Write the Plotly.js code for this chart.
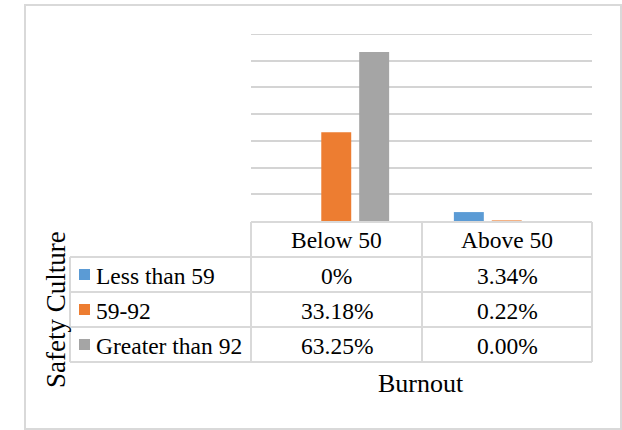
<!DOCTYPE html>
<html>
<head>
<meta charset="utf-8">
<script src="https://cdn.plot.ly/plotly-3.0.1.min.js"></script>
<style>html,body{margin:0;padding:0;background:#fff;}#chart{width:622px;height:430px;}</style>
</head>
<body>
<div id="chart"></div>
<script>
// ---- data ----
var categories = ['Below 50', 'Above 50'];
var seriesNames = ['Less than 59', '59-92', 'Greater than 92'];
var lessThan59 = [0, 3.34];
var from59to92 = [33.18, 0.22];
var greaterThan92 = [63.25, 0.00];
var lessThan59Labels = ['0%', '3.34%'];
var from59to92Labels = ['33.18%', '0.22%'];
var greaterThan92Labels = ['63.25%', '0.00%'];
var xTitle = 'Burnout';
var yTitle = 'Safety Culture';
var yMax = 70;

var seriesValues = [lessThan59, from59to92, greaterThan92];
var seriesLabels = [lessThan59Labels, from59to92Labels, greaterThan92Labels];
var colors = ['#5b9bd5', '#ed7d31', '#a5a5a5'];

// ---- layout geometry (pixels) ----
var W = 622, H = 430;
var L = 251, R = 592, T = 34, B = 221;
function px(x) { return (x - L) / (R - L); }
function py(y) { return (B - y) / (B - T); }

var traces = seriesValues.map(function (vals, i) {
  return {
    type: 'bar', x: categories, y: vals, name: seriesNames[i],
    marker: {color: colors[i], line: {width: 0}}, hoverinfo: 'skip'
  };
});

var lineCol = '#d9d9d9';
var gridCol = '#d4d4d4';
var shapes = [];
// top gridline at the range edge
shapes.push({type: 'line', xref: 'paper', yref: 'y', x0: 0, x1: 1, y0: yMax, y1: yMax, line: {color: gridCol, width: 2}});
function hline(x0, x1, y, w) {
  shapes.push({type: 'line', xref: 'paper', yref: 'paper', x0: px(x0), x1: px(x1), y0: py(y), y1: py(y), line: {color: lineCol, width: w || 2}});
}
function vline(x, y0, y1, w) {
  shapes.push({type: 'line', xref: 'paper', yref: 'paper', x0: px(x), x1: px(x), y0: py(y0), y1: py(y1), line: {color: lineCol, width: w || 2}});
}
// outer chart border
shapes.push({type: 'rect', xref: 'paper', yref: 'paper', x0: px(25), x1: px(621), y0: py(5), y1: py(429), line: {color: lineCol, width: 2}});

// table
var tableLeft = 70, colEdges = [251, 422, 592];
var headTop = 222, rowH = 35;
var rowTops = [];
for (var r = 0; r <= seriesNames.length + 1; r++) rowTops.push(headTop + r * rowH);
var tableBottom = rowTops[rowTops.length - 1];
hline(colEdges[0], colEdges[2], headTop);
for (var r = 1; r < rowTops.length; r++) hline(tableLeft, colEdges[2], rowTops[r]);
vline(tableLeft, rowTops[1], tableBottom);
colEdges.forEach(function (x) { vline(x, headTop, tableBottom); });

var font = '"Liberation Serif", "Times New Roman", serif';
var tfs = 23.5;
var annotations = [];
function txt(x, y, s, anchor, size) {
  annotations.push({xref: 'paper', yref: 'paper', x: px(x), y: py(y), text: s, showarrow: false,
    xanchor: anchor || 'center', yanchor: 'middle', font: {family: font, size: size || tfs, color: '#000'}});
}
categories.forEach(function (c, j) {
  txt((colEdges[j] + colEdges[j + 1]) / 2, headTop + rowH / 2, c);
});
seriesNames.forEach(function (n, i) {
  var yc = rowTops[i + 1] + rowH / 2;
  shapes.push({type: 'rect', xref: 'paper', yref: 'paper', x0: px(79), x1: px(90), y0: py(yc - 5.5), y1: py(yc + 5.5), fillcolor: colors[i], line: {width: 0}});
  txt(94, yc + 1, n, 'left');
  seriesLabels[i].forEach(function (s, j) {
    txt((colEdges[j] + colEdges[j + 1]) / 2, yc + 1, s);
  });
});
// axis titles
txt(421, 383, xTitle, 'center', 26);
annotations.push({xref: 'paper', yref: 'paper', x: px(56), y: py(309), text: yTitle, showarrow: false, textangle: -90,
  xanchor: 'center', yanchor: 'middle', font: {family: font, size: 27, color: '#000'}});

var layout = {
  width: W, height: H,
  margin: {l: L, r: W - R, t: T, b: H - B, pad: 0},
  paper_bgcolor: '#fff', plot_bgcolor: '#fff',
  showlegend: false,
  barmode: 'group', bargap: 0.333, bargroupgap: 0.21,
  xaxis: {showticklabels: false, ticks: '', showgrid: false, zeroline: false, showline: false, fixedrange: true},
  yaxis: {range: [0, yMax], dtick: 10, showticklabels: false, ticks: '', showgrid: true, gridcolor: gridCol, gridwidth: 2,
    zeroline: false, showline: false, fixedrange: true},
  shapes: shapes,
  annotations: annotations
};
Plotly.newPlot('chart', traces, layout, {displayModeBar: false, staticPlot: true});
</script>
</body>
</html>
